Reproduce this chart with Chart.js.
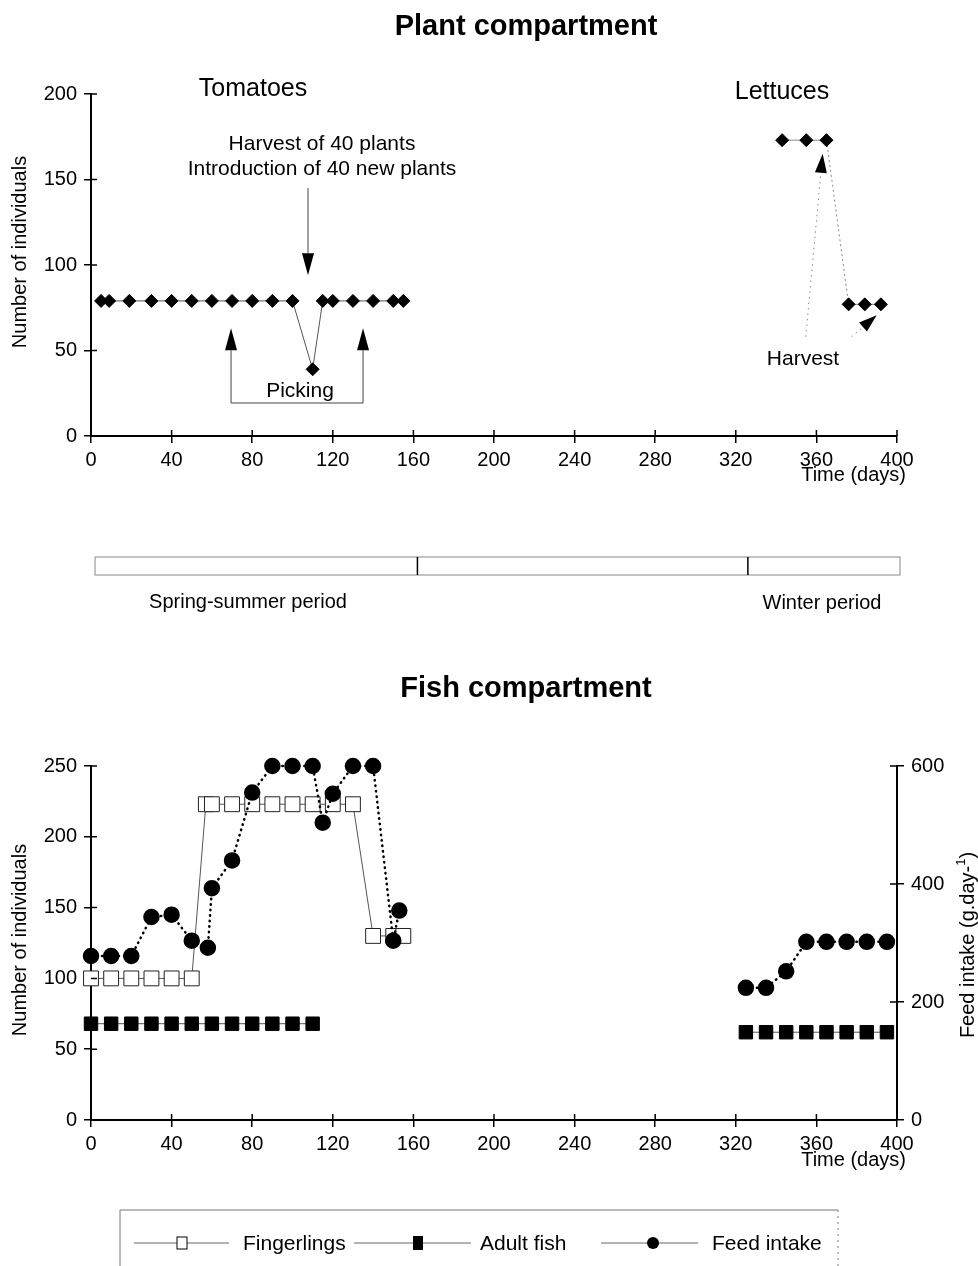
<!DOCTYPE html>
<html>
<head>
<meta charset="utf-8">
<script src="https://cdn.jsdelivr.net/npm/chart.js@4.4.1/dist/chart.umd.min.js"></script>
<style>
  html, body { margin: 0; padding: 0; background: #fff; }
  #wrap { position: relative; width: 978px; height: 1266px; }
  canvas { position: absolute; left: 0; }
  #plantChart { top: 0; }
  #fishChart { top: 640px; }
</style>
</head>
<body>
<div id="wrap">
  <canvas id="plantChart" width="978" height="640"></canvas>
  <canvas id="fishChart" width="978" height="626"></canvas>
</div>
<script>
const FONT = '"Liberation Sans", Arial, sans-serif';

// Plant compartment
const tomatoDays = [5, 9, 19, 30, 40, 50, 60, 70, 80, 90, 100, 110, 115, 120, 130, 140, 150, 155];
const tomatoPlants = [79, 79, 79, 79, 79, 79, 79, 79, 79, 79, 79, 39, 79, 79, 79, 79, 79, 79];
const lettuceDays = [343, 355, 365, 376, 384, 392];
const lettucePlants = [173, 173, 173, 77, 77, 77];

// Fish compartment
const fingerlingDays = [0, 10, 20, 30, 40, 50, 57, 60, 70, 80, 90, 100, 110, 120, 130, 140, 150, 155];
const fingerlings = [100, 100, 100, 100, 100, 100, 223, 223, 223, 223, 223, 223, 223, 223, 223, 130, 130, 130];
const adultDays = [0, 10, 20, 30, 40, 50, 60, 70, 80, 90, 100, 110, 325, 335, 345, 355, 365, 375, 385, 395];
const adultFish = [68, 68, 68, 68, 68, 68, 68, 68, 68, 68, 68, 68, 62, 62, 62, 62, 62, 62, 62, 62];
const feedDays = [0, 10, 20, 30, 40, 50, 58, 60, 70, 80, 90, 100, 110, 115, 120, 130, 140, 150, 153,
  325, 335, 345, 355, 365, 375, 385, 395];
const feedIntake = [278, 278, 278, 344, 348, 304, 292, 393, 440, 555, 600, 600, 600, 504, 553, 600, 600, 304, 355,
  224, 224, 252, 302, 302, 302, 302, 302];

// Tick labels
const dayTicks = [0, 40, 80, 120, 160, 200, 240, 280, 320, 360, 400];
const plantTicks = [0, 50, 100, 150, 200];
const fishTicks = [0, 50, 100, 150, 200, 250];
const feedTicks = [0, 200, 400, 600];

// Season bar (day boundaries)
const periodBreaks = [162, 326];

Chart.defaults.font.family = FONT;
Chart.defaults.font.size = 20;
Chart.defaults.color = '#000';

function toXY(xs, ys) {
  return xs.map((x, i) => ({ x: x, y: ys[i] }));
}

function xAxis() {
  return {
    type: 'linear', min: 0, max: 400,
    afterBuildTicks: s => { s.ticks = dayTicks.map(v => ({ value: v })); },
    afterFit: s => { s.height = 40; },
    border: { color: '#000', width: 2 },
    grid: { drawOnChartArea: false, color: '#000', lineWidth: 1.5, tickLength: 7 },
    ticks: { padding: 5, maxRotation: 0, autoSkip: false }
  };
}

function yAxis(ticks, pos, width) {
  return {
    type: 'linear', position: pos, min: ticks[0], max: ticks[ticks.length - 1],
    afterBuildTicks: s => { s.ticks = ticks.map(v => ({ value: v })); },
    afterFit: s => { s.width = width; },
    border: { color: '#000', width: 2 },
    grid: { drawOnChartArea: false, color: '#000', lineWidth: 1.5, tickLength: 7 },
    ticks: { padding: 7 }
  };
}

// ticks crossing the axis line
function crossTicks(chart) {
  const ctx = chart.ctx, a = chart.chartArea;
  ctx.save();
  ctx.strokeStyle = '#000';
  ctx.lineWidth = 1.5;
  ctx.beginPath();
  Object.values(chart.scales).forEach(s => {
    s.ticks.forEach(t => {
      const p = s.getPixelForValue(t.value);
      if (s.axis === 'x') { ctx.moveTo(p, a.bottom); ctx.lineTo(p, a.bottom - 6); }
      else if (s.position === 'left') { ctx.moveTo(a.left, p); ctx.lineTo(a.left + 6, p); }
      else { ctx.moveTo(a.right, p); ctx.lineTo(a.right - 7, p); }
    });
  });
  ctx.stroke();
  ctx.restore();
}

function arrow(ctx, x0, y0, x1, y1, len, half, dash) {
  const ang = Math.atan2(y1 - y0, x1 - x0);
  const bx = x1 - Math.cos(ang) * len, by = y1 - Math.sin(ang) * len;
  ctx.setLineDash(dash || []);
  ctx.beginPath(); ctx.moveTo(x0, y0); ctx.lineTo(bx, by); ctx.stroke();
  ctx.setLineDash([]);
  ctx.beginPath();
  ctx.moveTo(x1, y1);
  ctx.lineTo(bx + Math.sin(ang) * half, by - Math.cos(ang) * half);
  ctx.lineTo(bx - Math.sin(ang) * half, by + Math.cos(ang) * half);
  ctx.closePath();
  ctx.fill();
}

function vText(ctx, text, x, y) {
  ctx.save();
  ctx.translate(x, y);
  ctx.rotate(-Math.PI / 2);
  ctx.textAlign = 'center';
  ctx.textBaseline = 'middle';
  ctx.fillText(text, 0, 0);
  ctx.restore();
}

const plantExtras = {
  id: 'plantExtras',
  afterDraw(chart) {
    const { ctx, scales: { x, y } } = chart;
    crossTicks(chart);
    ctx.save();
    ctx.fillStyle = '#000';
    ctx.textAlign = 'center';
    ctx.textBaseline = 'alphabetic';
    ctx.font = 'bold 29px ' + FONT;
    ctx.fillText('Plant compartment', 526, 35);
    ctx.font = '25px ' + FONT;
    ctx.fillText('Tomatoes', 253, 96);
    ctx.fillText('Lettuces', 782, 99);
    ctx.font = '21px ' + FONT;
    ctx.fillText('Harvest of 40 plants', 322, 150);
    ctx.fillText('Introduction of 40 new plants', 322, 175);
    ctx.fillText('Picking', 300, 397);
    ctx.fillText('Harvest', 803, 365);
    ctx.font = '20px ' + FONT;
    ctx.textAlign = 'right';
    ctx.fillText('Time (days)', 906, 481);
    vText(ctx, 'Number of individuals', 20, 252);

    // arrows
    ctx.strokeStyle = '#444';
    ctx.lineWidth = 1;
    arrow(ctx, x.getPixelForValue(107.7), y.getPixelForValue(145), x.getPixelForValue(107.7), y.getPixelForValue(94), 22, 6);
    const pl = x.getPixelForValue(69.5), pr = x.getPixelForValue(135), pb = y.getPixelForValue(19.3);
    arrow(ctx, pl, pb, pl, y.getPixelForValue(63), 22, 6);
    arrow(ctx, pr, pb, pr, y.getPixelForValue(63), 22, 6);
    ctx.beginPath(); ctx.moveTo(pl, pb); ctx.lineTo(pr, pb); ctx.stroke();
    ctx.strokeStyle = '#888';
    arrow(ctx, x.getPixelForValue(354.7), y.getPixelForValue(58), x.getPixelForValue(363.1), y.getPixelForValue(165), 19, 6, [1.5, 4]);
    arrow(ctx, x.getPixelForValue(377.5), y.getPixelForValue(58), x.getPixelForValue(389.9), y.getPixelForValue(70.6), 18, 6, [1.5, 4]);

    // season bar
    const bl = x.getPixelForValue(2), br = x.getPixelForValue(401.5);
    ctx.strokeStyle = '#888';
    ctx.strokeRect(bl, 557, br - bl, 18);
    ctx.strokeStyle = '#000';
    ctx.lineWidth = 1.5;
    ctx.beginPath();
    periodBreaks.forEach(d => {
      const p = x.getPixelForValue(d);
      ctx.moveTo(p, 557); ctx.lineTo(p, 575);
    });
    ctx.stroke();
    ctx.textAlign = 'center';
    ctx.font = '20px ' + FONT;
    ctx.fillText('Spring-summer period', 248, 608);
    ctx.fillText('Winter period', 822, 609);
    ctx.restore();
  }
};

new Chart(document.getElementById('plantChart'), {
  type: 'line',
  data: {
    datasets: [
      {
        label: 'Tomatoes',
        data: toXY(tomatoDays, tomatoPlants),
        borderColor: '#555', borderWidth: 1,
        pointStyle: 'rectRot', pointRadius: 6.5, pointBackgroundColor: '#000', pointBorderColor: '#000',
        clip: false
      },
      {
        label: 'Lettuces',
        data: toXY(lettuceDays, lettucePlants),
        borderColor: '#888', borderWidth: 1,
        segment: { borderDash: c => (c.p0DataIndex === 2 ? [2, 3] : undefined) },
        pointStyle: 'rectRot', pointRadius: 6.5, pointBackgroundColor: '#000', pointBorderColor: '#000',
        clip: false
      }
    ]
  },
  options: {
    responsive: false,
    animation: false,
    events: [],
    layout: { padding: { left: 0, right: 81, top: 94, bottom: 164 } },
    plugins: { legend: { display: false }, tooltip: { enabled: false } },
    scales: { x: xAxis(), y: yAxis(plantTicks, 'left', 91) }
  },
  plugins: [plantExtras]
});

const legendItems = [
  { label: 'Fingerlings', x0: 134, x1: 229, mx: 182, tx: 243, mark: 'open' },
  { label: 'Adult fish', x0: 354, x1: 471, mx: 418, tx: 480, mark: 'square' },
  { label: 'Feed intake', x0: 601, x1: 698, mx: 653, tx: 712, mark: 'circle' }
];

const fishExtras = {
  id: 'fishExtras',
  afterDraw(chart) {
    const ctx = chart.ctx;
    crossTicks(chart);
    ctx.save();
    ctx.fillStyle = '#000';
    ctx.textAlign = 'center';
    ctx.font = 'bold 29px ' + FONT;
    ctx.fillText('Fish compartment', 526, 57);
    ctx.font = '20px ' + FONT;
    ctx.textAlign = 'right';
    ctx.fillText('Time (days)', 906, 526);
    vText(ctx, 'Number of individuals', 20, 300);

    // right axis title with superscript
    ctx.save();
    ctx.translate(968, 305);
    ctx.rotate(-Math.PI / 2);
    ctx.textBaseline = 'middle';
    ctx.textAlign = 'left';
    const main = 'Feed intake (g.day-', sup = '1', end = ')';
    ctx.font = '20px ' + FONT;
    const w1 = ctx.measureText(main).width, w3 = ctx.measureText(end).width;
    ctx.font = '13px ' + FONT;
    const w2 = ctx.measureText(sup).width;
    const sx = -(w1 + w2 + w3) / 2;
    ctx.font = '20px ' + FONT;
    ctx.fillText(main, sx, 0);
    ctx.font = '13px ' + FONT;
    ctx.fillText(sup, sx + w1, -7);
    ctx.font = '20px ' + FONT;
    ctx.fillText(end, sx + w1 + w2, 0);
    ctx.restore();

    // legend box
    ctx.strokeStyle = '#777';
    ctx.lineWidth = 1;
    ctx.beginPath();
    ctx.moveTo(120, 626); ctx.lineTo(120, 570); ctx.lineTo(838, 570);
    ctx.stroke();
    ctx.setLineDash([2, 4]);
    ctx.beginPath(); ctx.moveTo(838, 570); ctx.lineTo(838, 626); ctx.stroke();
    ctx.setLineDash([]);
    const ly = 603;
    ctx.font = '21px ' + FONT;
    ctx.textAlign = 'left';
    ctx.textBaseline = 'middle';
    legendItems.forEach(it => {
      ctx.strokeStyle = '#666';
      ctx.lineWidth = 1;
      ctx.beginPath(); ctx.moveTo(it.x0, ly); ctx.lineTo(it.x1, ly); ctx.stroke();
      ctx.fillStyle = '#000';
      if (it.mark === 'open') {
        ctx.fillStyle = '#fff';
        ctx.fillRect(it.mx - 5, ly - 6, 10, 12);
        ctx.strokeStyle = '#000';
        ctx.strokeRect(it.mx - 5, ly - 6, 10, 12);
      } else if (it.mark === 'square') {
        ctx.fillRect(it.mx - 5, ly - 7, 10, 14);
      } else {
        ctx.beginPath(); ctx.arc(it.mx, ly, 6, 0, Math.PI * 2); ctx.fill();
      }
      ctx.fillStyle = '#000';
      ctx.fillText(it.label, it.tx, ly + 1);
    });
    ctx.restore();
  }
};

const hideGap = c => (c.p1.parsed.x - c.p0.parsed.x > 100 ? 'rgba(0,0,0,0)' : undefined);

new Chart(document.getElementById('fishChart'), {
  type: 'line',
  data: {
    datasets: [
      {
        label: 'Feed intake',
        yAxisID: 'y1',
        data: toXY(feedDays, feedIntake),
        borderColor: '#000', borderWidth: 2.5, borderDash: [0.5, 5], borderCapStyle: 'round',
        segment: { borderColor: hideGap },
        pointStyle: 'circle', pointRadius: 7, pointBackgroundColor: '#000', pointBorderColor: '#000',
        clip: false
      },
      {
        label: 'Adult fish',
        data: toXY(adultDays, adultFish),
        borderColor: '#555', borderWidth: 1,
        segment: { borderColor: hideGap },
        pointStyle: 'rect', pointRadius: 9.5, pointBackgroundColor: '#000', pointBorderColor: '#000',
        clip: false
      },
      {
        label: 'Fingerlings',
        data: toXY(fingerlingDays, fingerlings),
        borderColor: '#555', borderWidth: 1,
        pointStyle: 'rect', pointRadius: 10.5, pointBackgroundColor: '#fff', pointBorderColor: '#222',
        pointBorderWidth: 1,
        clip: false
      }
    ]
  },
  options: {
    responsive: false,
    animation: false,
    events: [],
    layout: { padding: { left: 0, right: 0, top: 126, bottom: 106 } },
    plugins: { legend: { display: false }, tooltip: { enabled: false } },
    scales: {
      x: xAxis(),
      y: yAxis(fishTicks, 'left', 91),
      y1: yAxis(feedTicks, 'right', 81)
    }
  },
  plugins: [fishExtras]
});
</script>
</body>
</html>
